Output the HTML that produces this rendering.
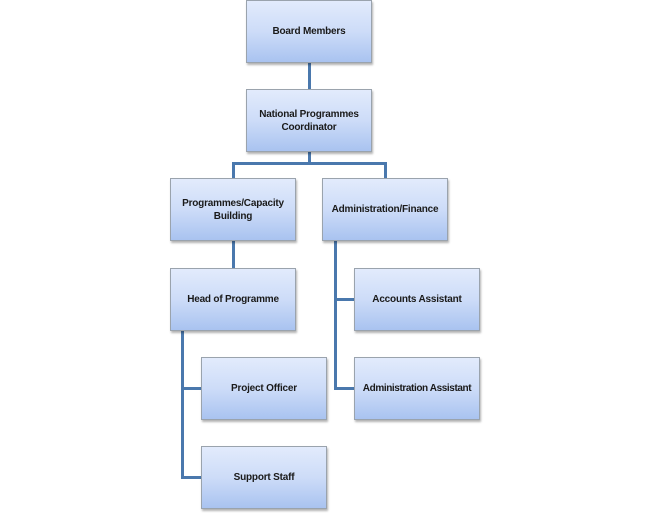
<!DOCTYPE html>
<html><head><style>
body{margin:0;width:651px;height:513px;background:#fff;position:relative;overflow:hidden;font-family:"Liberation Sans",sans-serif}
.b{position:absolute;width:124px;height:61px;border:1px solid #9aa3ad;background:linear-gradient(#e2ebfc,#cddcf8 50%,#a9c3f0);box-shadow:1px 2px 2px rgba(0,0,0,.3);display:flex;align-items:center;justify-content:center;text-align:center;font-size:10px;font-weight:bold;color:#1a1a1a;line-height:13px;letter-spacing:-0.2px}
.l{position:absolute;background:#4a78ad}
</style></head><body>
<div class="l" style="left:308px;top:62px;width:3px;height:28px"></div>
<div class="l" style="left:308px;top:151px;width:3px;height:14px"></div>
<div class="l" style="left:232px;top:162px;width:155px;height:3px"></div>
<div class="l" style="left:232px;top:162px;width:3px;height:17px"></div>
<div class="l" style="left:384px;top:162px;width:3px;height:17px"></div>
<div class="l" style="left:232px;top:240px;width:3px;height:29px"></div>
<div class="l" style="left:334px;top:240px;width:3px;height:150px"></div>
<div class="l" style="left:334px;top:298px;width:21px;height:3px"></div>
<div class="l" style="left:334px;top:387px;width:21px;height:3px"></div>
<div class="l" style="left:181px;top:330px;width:3px;height:149px"></div>
<div class="l" style="left:181px;top:387px;width:21px;height:3px"></div>
<div class="l" style="left:181px;top:476px;width:21px;height:3px"></div>
<div class="b" style="left:246px;top:0">Board Members</div>
<div class="b" style="left:246px;top:89px">National Programmes<br>Coordinator</div>
<div class="b" style="left:170px;top:178px">Programmes/Capacity<br>Building</div>
<div class="b" style="left:322px;top:178px">Administration/Finance</div>
<div class="b" style="left:170px;top:268px">Head of Programme</div>
<div class="b" style="left:354px;top:268px">Accounts Assistant</div>
<div class="b" style="left:201px;top:357px">Project Officer</div>
<div class="b" style="left:354px;top:357px;letter-spacing:-0.4px">Administration Assistant</div>
<div class="b" style="left:201px;top:446px">Support Staff</div>
</body></html>
